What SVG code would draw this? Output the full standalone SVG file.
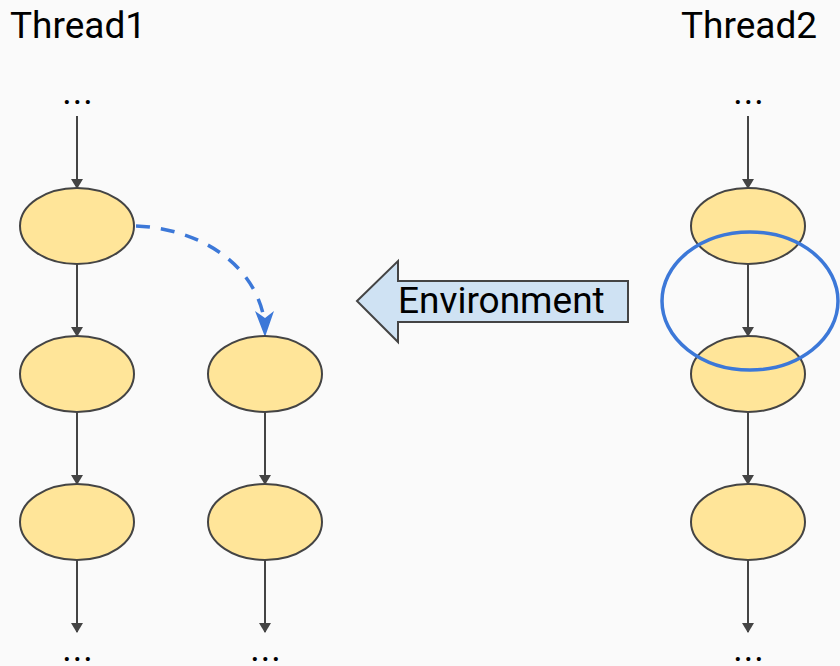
<svg xmlns="http://www.w3.org/2000/svg" width="840" height="666" viewBox="0 0 840 666">
<defs>
<marker id="ah" markerWidth="10" markerHeight="12" refX="9" refY="5" orient="auto" markerUnits="userSpaceOnUse" viewBox="0 0 10 10" preserveAspectRatio="none">
<path d="M0,0 L10,5 L0,10 Z" fill="#444"/>
</marker>
<style>
.node{fill:#ffe599;stroke:#444;stroke-width:2}
.e{stroke:#444;stroke-width:2;fill:none;marker-end:url(#ah)}
.t{font-family:Roboto,"Liberation Sans",sans-serif;fill:#000}
.dots{font-family:Roboto,"Liberation Sans",sans-serif;font-size:36px;letter-spacing:1px;fill:#000;text-anchor:middle}
</style>
</defs>
<rect width="840" height="666" fill="#fafafa"/>
<text class="t" x="10" y="38" font-size="37">Thread1</text>
<text class="t" x="681" y="38" font-size="37">Thread2</text>
<text class="dots" x="78" y="104">...</text>
<text class="dots" x="749" y="104">...</text>
<text class="dots" x="78" y="661">...</text>
<text class="dots" x="266" y="661">...</text>
<text class="dots" x="749" y="661">...</text>
<g id="connectors">
<line class="e" x1="77" y1="116" x2="77" y2="188"/>
<line class="e" x1="77" y1="264" x2="77" y2="336"/>
<line class="e" x1="77" y1="412" x2="77" y2="484"/>
<line class="e" x1="77" y1="560" x2="77" y2="632"/>
<line class="e" x1="265" y1="412" x2="265" y2="484"/>
<line class="e" x1="265" y1="560" x2="265" y2="632"/>
<line class="e" x1="748" y1="116" x2="748" y2="188"/>
<line class="e" x1="748" y1="264" x2="748" y2="336"/>
<line class="e" x1="748" y1="412" x2="748" y2="484"/>
<line class="e" x1="748" y1="560" x2="748" y2="632"/>
<path d="M136,226 C192,228 252,258 264,318" fill="none" stroke="#3c78d8" stroke-width="3.5" stroke-dasharray="14,11"/>
<polygon points="265,337 255,311 265,318 274,311" fill="#3c78d8"/>
</g>
<g id="n1"><ellipse class="node" cx="77" cy="226" rx="57" ry="38"/></g>
<g id="n2"><ellipse class="node" cx="77" cy="374" rx="57" ry="38"/></g>
<g id="n3"><ellipse class="node" cx="77" cy="522" rx="57" ry="38"/></g>
<g id="n4"><ellipse class="node" cx="265" cy="374" rx="57" ry="38"/></g>
<g id="n5"><ellipse class="node" cx="265" cy="522" rx="57" ry="38"/></g>
<g id="n6"><ellipse class="node" cx="748" cy="226" rx="57" ry="38"/></g>
<g id="n7"><ellipse class="node" cx="748" cy="374" rx="57" ry="38"/></g>
<g id="n8"><ellipse class="node" cx="748" cy="522" rx="57" ry="38"/></g>
<g id="env">
<polygon points="357,301 398,261 398,281 628,281 628,322 398,322 398,342" fill="#cfe2f3" stroke="#444" stroke-width="2"/>
<text class="t" x="398" y="313" font-size="37">Environment</text>
</g>
<g id="highlight"><ellipse cx="750" cy="301" rx="88" ry="69" fill="none" stroke="#3c78d8" stroke-width="3.5"/></g>
</svg>
